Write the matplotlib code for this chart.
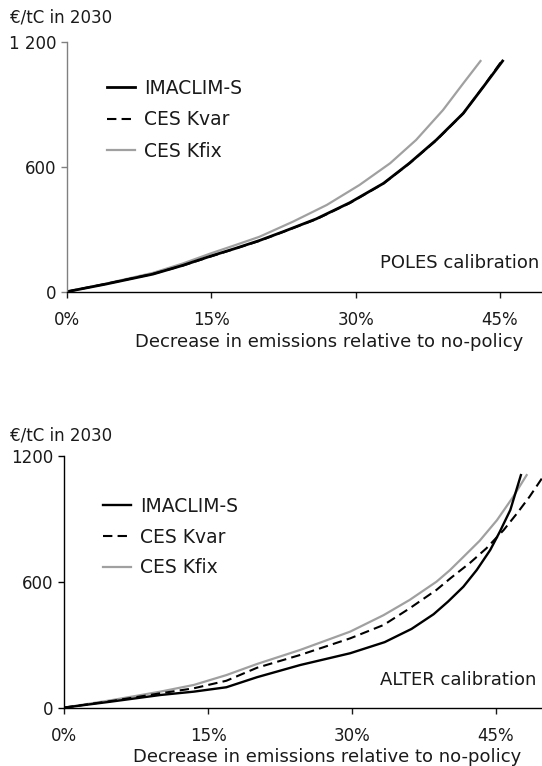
import matplotlib
matplotlib.use('Agg')
import matplotlib.pyplot as plt
import numpy as np

plt.rcParams['font.family'] = ['DejaVu Sans']

### POLES calibration (top panel), x = decrease in emissions (%), y = EUR/tC
poles_imaclim_x = [0, 4, 8.9, 12, 15, 17.5, 20, 22.5, 25.9, 29.4, 32.9, 35.6, 38.4, 41.2, 43.3, 45.3]
poles_imaclim_y = [0, 36, 84, 126, 172, 208, 246, 289, 350, 428, 521, 618, 730, 858, 986, 1110]
poles_kvar_x = [0, 4, 8.9, 12, 15, 17.5, 20, 22.5, 25.9, 29.4, 32.9, 35.6, 38.4, 41.2, 43.3, 45.2]
poles_kvar_y = [0, 37, 85, 125, 170, 207, 244, 288, 348, 426, 520, 617, 728, 857, 987, 1110]
poles_kfix_x = [0, 4, 8.9, 12, 15, 17.5, 20, 23.5, 27.0, 30.4, 33.6, 36.3, 39.1, 41.2, 43.0]
poles_kfix_y = [0, 38, 90, 135, 185, 224, 264, 337, 417, 513, 618, 730, 874, 1002, 1110]

### ALTER calibration (bottom panel)
alter_imaclim_x = [0, 4.8, 10, 13.5, 16.9, 20.1, 24.6, 29.8, 33.4, 36.2, 38.5, 40.0, 41.6, 43.0, 44.4, 45.4, 46.5, 47.6]
alter_imaclim_y = [0, 28, 60, 76, 97, 145, 203, 259, 312, 375, 445, 505, 576, 656, 751, 838, 942, 1108]
alter_kvar_x = [0, 5, 10, 13.5, 16.9, 20.1, 24.6, 29.8, 33.3, 36.0, 38.8, 40.3, 42.3, 44.0, 45.8, 47.2, 48.5, 49.8]
alter_kvar_y = [0, 32, 68, 92, 128, 190, 251, 330, 394, 473, 561, 618, 690, 759, 846, 926, 1005, 1093]
alter_kfix_x = [0, 5, 10, 13.5, 16.9, 20.1, 24.6, 29.8, 33.3, 36.0, 38.8, 40.2, 41.6, 43.3, 45.1, 46.8, 48.2]
alter_kfix_y = [0, 36, 76, 108, 155, 208, 275, 362, 441, 513, 600, 655, 718, 795, 893, 1005, 1108]

x_ticks = [0, 15, 30, 45]
x_ticklabels = ['0%', '15%', '30%', '45%']
y_ticks = [0, 600, 1200]
y_ticklabels_top = ['0', '600', '1 200']
y_ticklabels_bottom = ['0', '600', '1200']

W, H = 542, 766
fig = plt.figure(figsize=(W / 100, H / 100), dpi=100)

GRAY = '#a0a0a0'
TXT = '#1a1a1a'
FS = 12
FS_LAB = 13
FS_LEG = 13.5


def make_axes(left_px, zero_px, top_px, xmax, ylabels, yspine_color):
    ax = fig.add_axes([left_px / W, 1 - zero_px / H, 1 - left_px / W, (zero_px - top_px) / H])
    ax.set_xlim(0, xmax)
    ax.set_ylim(0, 1200)
    for s in ['top', 'right']:
        ax.spines[s].set_visible(False)
    ax.spines['left'].set_color(yspine_color)
    ax.spines['left'].set_linewidth(1.0)
    ax.spines['bottom'].set_linewidth(1.0)
    ax.set_xticks(x_ticks)
    ax.set_xticklabels(x_ticklabels)
    ax.set_yticks(y_ticks)
    ax.set_yticklabels(ylabels)
    ax.tick_params(axis='x', length=4, width=1, pad=10, labelsize=FS, colors=TXT)
    ax.tick_params(axis='y', length=4, width=1, pad=4, labelsize=FS, colors=TXT)
    ax.tick_params(axis='y', color=yspine_color)
    ax.patch.set_visible(False)
    return ax


def add_legend(ax, order, left_px, top_px, spacing):
    h, l = ax.get_legend_handles_labels()
    fig.legend([h[i] for i in order], [l[i] for i in order], loc='upper left',
               bbox_to_anchor=(left_px / W, 1 - top_px / H), frameon=False, fontsize=FS_LEG,
               handlelength=1.5, handletextpad=0.5, labelspacing=spacing, borderpad=0,
               borderaxespad=0, labelcolor=TXT)


### Top panel
ax1 = make_axes(67.3, 291.6, 42.3, 49.4, y_ticklabels_top, '#808080')
ax1.plot(poles_kfix_x, poles_kfix_y, color=GRAY, lw=1.6, label='CES Kfix')
ax1.plot(poles_imaclim_x, poles_imaclim_y, color='black', lw=2.0, label='IMACLIM-S')
ax1.plot(poles_kvar_x, poles_kvar_y, color='black', lw=1.5, ls=(0, (4.5, 2.5)), label='CES Kvar')
add_legend(ax1, [1, 2, 0], 107, 78.8, 0.66)
fig.text(539 / W, 1 - 262.7 / H, 'POLES calibration', ha='right', va='center', fontsize=FS_LAB, color=TXT)
fig.text(10 / W, 1 - 17 / H, '€/tC in 2030', ha='left', va='center', fontsize=FS, color=TXT)
fig.text(329 / W, 1 - 342 / H, 'Decrease in emissions relative to no-policy', ha='center', va='center',
         fontsize=FS_LAB, color=TXT)

### Bottom panel
ax2 = make_axes(64.3, 707.6, 455.8, 49.8, y_ticklabels_bottom, 'black')
ax2.plot(alter_kfix_x, alter_kfix_y, color=GRAY, lw=1.6, label='CES Kfix')
ax2.plot(alter_kvar_x, alter_kvar_y, color='black', lw=1.5, ls=(0, (4.5, 2.5)), label='CES Kvar')
ax2.plot(alter_imaclim_x, alter_imaclim_y, color='black', lw=1.7, label='IMACLIM-S')
add_legend(ax2, [2, 1, 0], 103, 496.8, 0.63)
fig.text(536.5 / W, 1 - 680 / H, 'ALTER calibration', ha='right', va='center', fontsize=FS_LAB, color=TXT)
fig.text(10 / W, 1 - 435 / H, '€/tC in 2030', ha='left', va='center', fontsize=FS, color=TXT)
fig.text(327.5 / W, 1 - 756.7 / H, 'Decrease in emissions relative to no-policy', ha='center', va='center',
         fontsize=FS_LAB, color=TXT)

plt.savefig('out.png', dpi=100)
